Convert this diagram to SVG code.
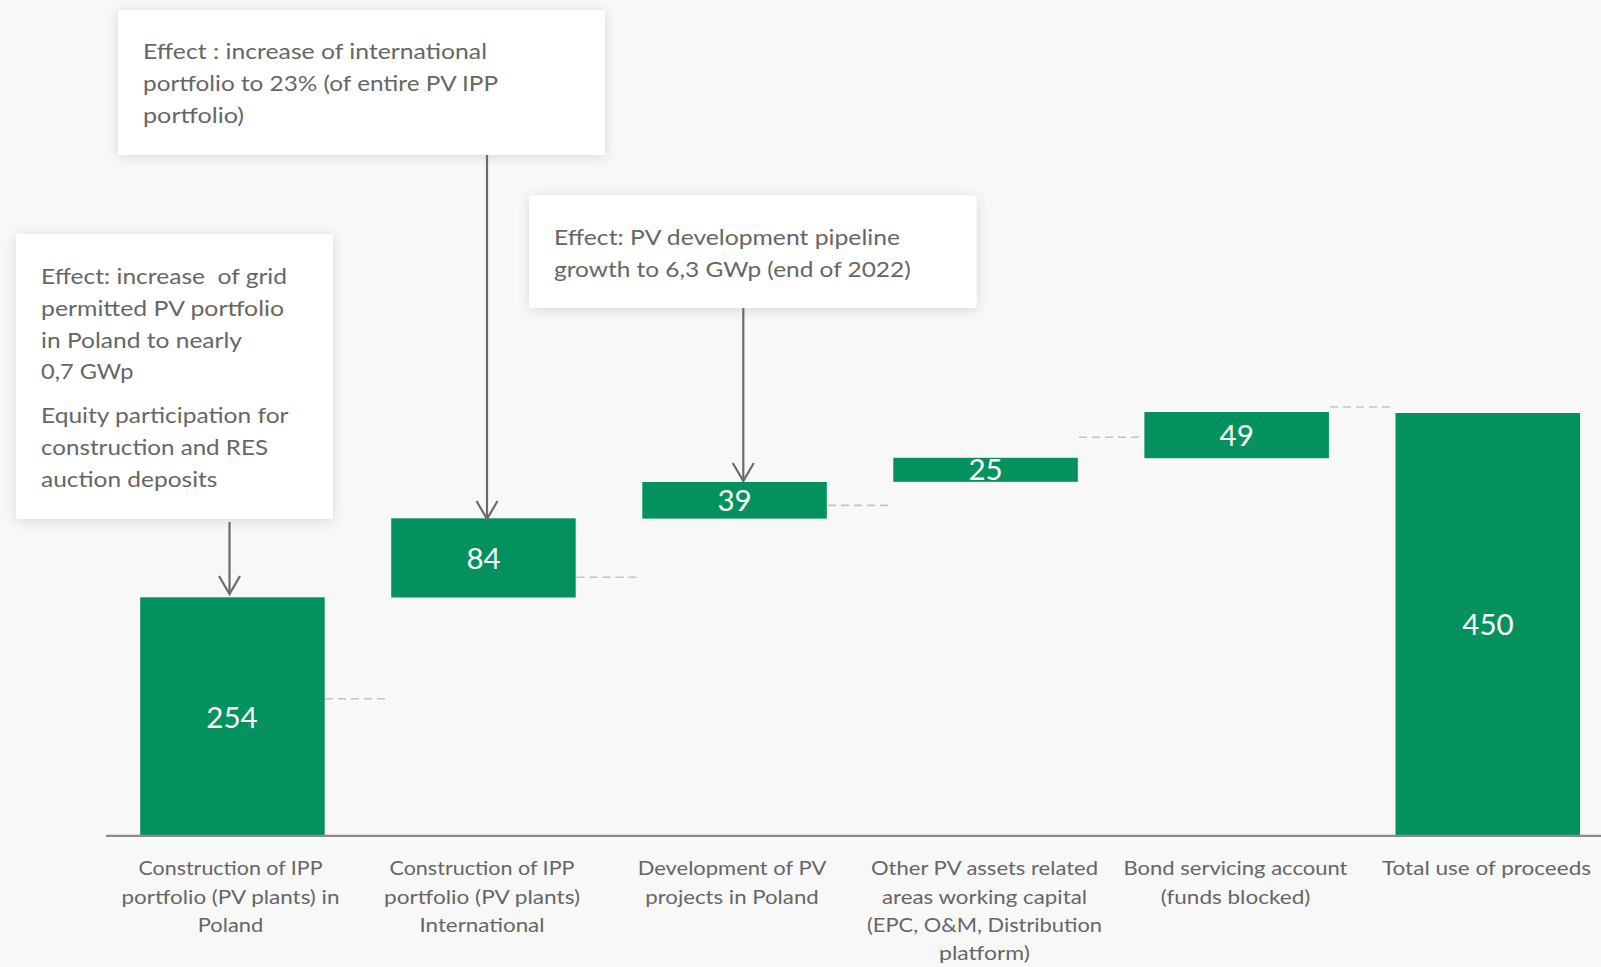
<svg xmlns="http://www.w3.org/2000/svg" width="1601" height="967" viewBox="0 0 1601 967">
<style>
.bg{fill:#f8f8f8}
.box{fill:#ffffff;filter:url(#sh)}
.bar{fill:#03925e}
.t{font-family:Lato,"Open Sans","Liberation Sans",sans-serif;fill:#666666}
.bt{font-size:22px}
.al{font-size:19.8px;text-anchor:middle}
.val{font-family:Lato,"Open Sans","Liberation Sans",sans-serif;fill:#ffffff;font-size:29.5px;text-anchor:middle}
.arr{stroke:#6b6b6b;stroke-width:2.2;fill:none;marker-end:url(#ah)}
.dash{stroke:#c4c4c4;stroke-width:1.6;stroke-dasharray:8 5;fill:none}
.axis{stroke:#8a8a8a;stroke-width:2.2}
</style>
<defs>
<filter id="sh" x="-10%" y="-15%" width="120%" height="130%">
<feGaussianBlur in="SourceAlpha" stdDeviation="7"/>
<feComponentTransfer><feFuncA type="linear" slope="0.13"/></feComponentTransfer>
<feOffset dy="2" result="s"/>
<feMerge><feMergeNode in="s"/><feMergeNode in="SourceGraphic"/></feMerge>
</filter>
<marker id="ah" markerUnits="userSpaceOnUse" orient="auto" refX="0" refY="0" markerWidth="24" markerHeight="24" overflow="visible">
<path d="M-18,-10.5 L0,0 L-18,10.5" fill="none" stroke="#6b6b6b" stroke-width="2.2"/>
</marker>
</defs>
<rect class="bg" x="0" y="0" width="1601" height="967"/>

<g id="callout-international">
<rect class="box" x="118" y="10" width="487" height="145"/>
<text class="t bt" x="143" y="59.3" textLength="344" lengthAdjust="spacingAndGlyphs">Effect : increase of international</text>
<text class="t bt" x="143" y="91" textLength="355" lengthAdjust="spacingAndGlyphs">portfolio to 23% (of entire PV IPP</text>
<text class="t bt" x="143" y="123" textLength="101" lengthAdjust="spacingAndGlyphs">portfolio)</text>
</g>

<g id="callout-poland">
<rect class="box" x="16" y="234" width="317" height="285"/>
<text class="t bt" x="41" y="284" textLength="246" lengthAdjust="spacingAndGlyphs" xml:space="preserve">Effect: increase  of grid</text>
<text class="t bt" x="41" y="316" textLength="243" lengthAdjust="spacingAndGlyphs">permitted PV portfolio</text>
<text class="t bt" x="41" y="347.7" textLength="201" lengthAdjust="spacingAndGlyphs">in Poland to nearly</text>
<text class="t bt" x="41" y="379.3" textLength="92.5" lengthAdjust="spacingAndGlyphs">0,7 GWp</text>
<text class="t bt" x="41" y="422.7" textLength="247.5" lengthAdjust="spacingAndGlyphs">Equity participation for</text>
<text class="t bt" x="41" y="454.7" textLength="227" lengthAdjust="spacingAndGlyphs">construction and RES</text>
<text class="t bt" x="41" y="486.7" textLength="176.4" lengthAdjust="spacingAndGlyphs">auction deposits</text>
</g>

<g id="callout-pipeline">
<rect class="box" x="529" y="195.5" width="447.5" height="112.5"/>
<text class="t bt" x="554" y="245" textLength="346" lengthAdjust="spacingAndGlyphs">Effect: PV development pipeline</text>
<text class="t bt" x="554" y="277.3" textLength="356.7" lengthAdjust="spacingAndGlyphs">growth to 6,3 GWp (end of 2022)</text>
</g>

<g id="bar-ipp-poland">
<rect class="bar" x="140.2" y="597.3" width="184.5" height="238.2"/>
<text class="val" x="232" y="727.5">254</text>
<text class="t al" x="230.5" y="875" textLength="184" lengthAdjust="spacingAndGlyphs">Construction of IPP</text>
<text class="t al" x="230.5" y="903.5" textLength="218" lengthAdjust="spacingAndGlyphs">portfolio (PV plants) in</text>
<text class="t al" x="230.5" y="932" textLength="65.4" lengthAdjust="spacingAndGlyphs">Poland</text>
</g>

<g id="bar-ipp-international">
<rect class="bar" x="391.2" y="518.3" width="184.5" height="79.2"/>
<text class="val" x="483.5" y="568.5">84</text>
<text class="t al" x="482" y="875" textLength="185" lengthAdjust="spacingAndGlyphs">Construction of IPP</text>
<text class="t al" x="482" y="903.5" textLength="196" lengthAdjust="spacingAndGlyphs">portfolio (PV plants)</text>
<text class="t al" x="482" y="932" textLength="125" lengthAdjust="spacingAndGlyphs">International</text>
</g>

<g id="bar-development">
<rect class="bar" x="642.3" y="482" width="184.5" height="36.6"/>
<text class="val" x="734.5" y="510.6">39</text>
<text class="t al" x="732" y="875" textLength="188.6" lengthAdjust="spacingAndGlyphs">Development of PV</text>
<text class="t al" x="732" y="903.5" textLength="173.5" lengthAdjust="spacingAndGlyphs">projects in Poland</text>
</g>

<g id="bar-other-assets">
<rect class="bar" x="893.3" y="457.8" width="184.5" height="24"/>
<text class="val" x="985.5" y="480.3">25</text>
<text class="t al" x="984.5" y="875" textLength="227" lengthAdjust="spacingAndGlyphs">Other PV assets related</text>
<text class="t al" x="984.5" y="903.5" textLength="205" lengthAdjust="spacingAndGlyphs">areas working capital</text>
<text class="t al" x="984.5" y="932" textLength="235" lengthAdjust="spacingAndGlyphs">(EPC, O&amp;M, Distribution</text>
<text class="t al" x="984.5" y="960" textLength="91" lengthAdjust="spacingAndGlyphs">platform)</text>
</g>

<g id="bar-bond-account">
<rect class="bar" x="1144.4" y="412" width="184.5" height="46.2"/>
<text class="val" x="1236.7" y="445.5">49</text>
<text class="t al" x="1235.5" y="875" textLength="224" lengthAdjust="spacingAndGlyphs">Bond servicing account</text>
<text class="t al" x="1235.5" y="903.5" textLength="149.5" lengthAdjust="spacingAndGlyphs">(funds blocked)</text>
</g>

<g id="bar-total">
<rect class="bar" x="1395.5" y="413" width="184.5" height="422.5"/>
<text class="val" x="1488" y="634.5">450</text>
<text class="t al" x="1486.5" y="875" textLength="209" lengthAdjust="spacingAndGlyphs">Total use of proceeds</text>
</g>

<g id="axis">
<line class="axis" x1="106" y1="835.8" x2="1601" y2="835.8"/>
</g>

<g id="connectors">
<line class="arr" x1="487" y1="155" x2="487" y2="519"/>
<line class="arr" x1="229.5" y1="522" x2="229.5" y2="594"/>
<line class="arr" x1="743.3" y1="308" x2="743.3" y2="481"/>
<line class="dash" x1="325" y1="698.8" x2="388" y2="698.8"/>
<line class="dash" x1="576.5" y1="577.3" x2="638.5" y2="577.3"/>
<line class="dash" x1="828" y1="505.4" x2="890" y2="505.4"/>
<line class="dash" x1="1079" y1="437.3" x2="1141.5" y2="437.3"/>
<line class="dash" x1="1330" y1="407" x2="1392.6" y2="407"/>
</g>
</svg>
